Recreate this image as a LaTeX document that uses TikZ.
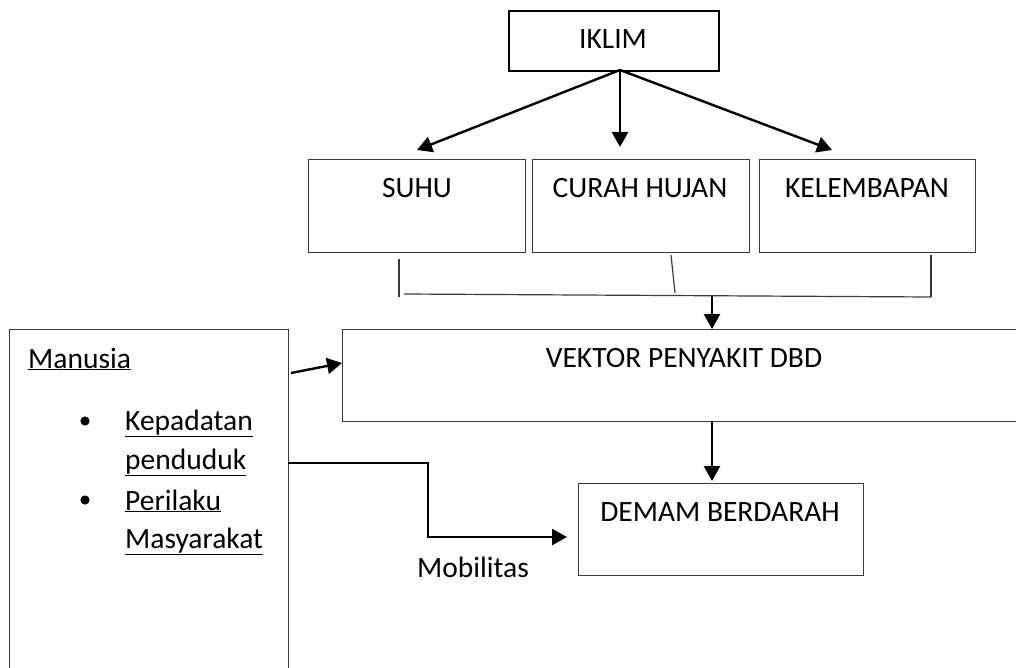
\documentclass[tikz,border=0pt]{standalone}
\usepackage{fontspec}
\setmainfont{Carlito}
\usetikzlibrary{arrows.meta,calc}
\definecolor{boxgray}{HTML}{3A3A3A}
\newcommand{\ulin}[1]{\underline{#1}}
\tikzset{
  box/.style={draw=boxgray, line width=1.4pt, inner sep=0pt, anchor=north west},
  lbl/.style={font=\fontsize{29.5}{40}\selectfont, inner sep=0pt, anchor=base},
  lbll/.style={font=\fontsize{29.5}{40}\selectfont, inner sep=0pt, anchor=base west},
  arr/.style={line width=2.4pt, -{Triangle[length=15pt,width=16pt]}},
  thin/.style={line width=1.2pt, draw=boxgray}
}
\begin{document}
\begin{tikzpicture}[x=1pt,y=-1pt]
\useasboundingbox (0,0) rectangle (1016,668);
% boxes
\node[box, draw=black, line width=2.4pt, minimum width=210pt, minimum height=60pt] (iklim) at (508,10) {};
\node[box, minimum width=217pt, minimum height=93pt] (suhu) at (308,159) {};
\node[box, minimum width=217pt, minimum height=93pt] (curah) at (532,159) {};
\node[box, minimum width=216pt, minimum height=93pt] (lembap) at (759,159) {};
\node[box, minimum width=678pt, minimum height=92pt] (vektor) at (342,329) {};
\node[box, minimum width=285pt, minimum height=92pt] (demam) at (578,483) {};
\node[box, minimum width=279pt, minimum height=360pt] (manusia) at (9,329) {};
% labels
\node[lbl] (tiklim) at (613,49) {IKLIM};
\node[lbl] (tsuhu) at (417,198) {SUHU};
\node[lbl] (tcurah) at (640,198) {CURAH HUJAN};
\node[lbl] (tlembap) at (867,198) {KELEMBAPAN};
\node[lbl] (tvektor) at (684,367) {VEKTOR PENYAKIT DBD};
\node[lbl] (tdemam) at (720,521) {DEMAM BERDARAH};
\node[lbl] (tmob) at (473,577) {Mobilitas};
\node[lbll] (tman) at (28,368) {\ulin{Manusia}};
\node[lbll] (tkep) at (125,430) {\ulin{Kepadatan}};
\node[lbll] (tpen) at (125,469) {\ulin{penduduk}};
\node[lbll] (tper) at (125,510) {\ulin{Perilaku}};
\node[lbll] (tmas) at (125,548) {\ulin{Masyarakat}};
\fill (85,421) circle (4.6pt);
\fill (85,500) circle (4.6pt);
% IKLIM arrows
\coordinate (ikb) at (620,70);
\coordinate (tipS) at (417,150);
\coordinate (tipC) at (620,147);
\coordinate (tipK) at (832,150);
\draw[arr] (ikb) -- (tipS);
\draw[arr] (ikb) -- (tipC);
\draw[arr] (ikb) -- (tipK);
% bracket lines
\coordinate (l1) at (399,259); \coordinate (l2) at (399,297);
\coordinate (h1) at (404,294); \coordinate (h2) at (931,297);
\coordinate (m1) at (671,255); \coordinate (m2) at (675,293);
\coordinate (r1) at (931,255); \coordinate (r2) at (931,297);
\draw[thin] (l1) -- (l2);
\draw[thin] (h1) -- (h2);
\draw[thin] (m1) -- (m2);
\draw[thin] (r1) -- (r2);
\coordinate (jb) at (712,296);
\draw[arr] (jb) -- (jb |- vektor.north);
% vektor -> demam
\coordinate (vb) at (712,421);
\draw[arr] (vb) -- ($(vb |- demam.north)+(0,-2)$);
% manusia -> vektor
\coordinate (ma) at (291,373);
\draw[arr] (ma) -- (vektor.west |- 0,363);
% mobilitas
\coordinate (mb) at (288,463);
\coordinate (mtip) at (567,537);
\draw[arr] (mb) -- (428,463) -- (428,537) -- (mtip);
\end{tikzpicture}
\end{document}
